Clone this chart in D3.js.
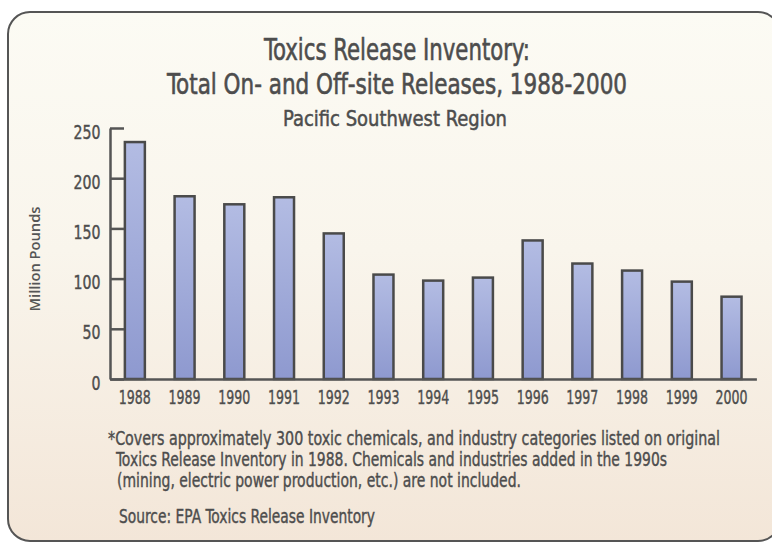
<!DOCTYPE html>
<html>
<head>
<meta charset="utf-8">
<script src="https://cdn.jsdelivr.net/npm/d3@7"></script>
<style>
  html, body { margin: 0; padding: 0; background: #ffffff; }
  svg { display: block; }
  .cond { font-family: "Liberation Sans Narrow", "DejaVu Sans Condensed", "Arial Narrow", sans-serif; }
</style>
</head>
<body>
<svg id="chart" width="772" height="542"></svg>
<script>
// Total on- and off-site releases, Pacific Southwest Region (million pounds)
const years = ["1988", "1989", "1990", "1991", "1992", "1993", "1994",
               "1995", "1996", "1997", "1998", "1999", "2000"];
const releases = [236, 182, 174, 181, 145, 104, 98, 101, 138, 115, 108, 97, 82];
const yTicks = [0, 50, 100, 150, 200, 250];

const titleLines = [
  "Toxics Release Inventory:",
  "Total On- and Off-site Releases, 1988-2000"
];
const subtitle = "Pacific Southwest Region";
const yLabel = "Million Pounds";
const noteLines = [
  "*Covers approximately 300 toxic chemicals, and industry categories listed on original",
  "Toxics Release Inventory in 1988. Chemicals and industries added in the 1990s",
  "(mining, electric power production, etc.) are not included."
];
const source = "Source: EPA Toxics Release Inventory";

const svg = d3.select("#chart");
const ink = "#4d4d4d";

// gradients
const defs = svg.append("defs");
const panelGrad = defs.append("linearGradient")
  .attr("id", "panelGrad").attr("x1", 0).attr("y1", 0).attr("x2", 0).attr("y2", 1);
panelGrad.append("stop").attr("offset", "0%").attr("stop-color", "#fcfbf4");
panelGrad.append("stop").attr("offset", "45%").attr("stop-color", "#f9f5ec");
panelGrad.append("stop").attr("offset", "100%").attr("stop-color", "#f3e6d8");

const barGrad = defs.append("linearGradient")
  .attr("id", "barGrad").attr("x1", 0).attr("y1", 0).attr("x2", 0).attr("y2", 1);
barGrad.append("stop").attr("offset", "0%").attr("stop-color", "#b3bce3");
barGrad.append("stop").attr("offset", "100%").attr("stop-color", "#8e99cf");

// rounded panel
svg.append("rect")
  .attr("x", 8).attr("y", 12)
  .attr("width", 772).attr("height", 529)
  .attr("rx", 22).attr("ry", 22)
  .attr("fill", "url(#panelGrad)")
  .attr("stroke", "#555").attr("stroke-width", 2);

// titles (a thin outline gives the glyphs a medium weight)
const titleG = svg.append("g").attr("class", "cond")
  .attr("fill", ink).attr("stroke", ink).attr("stroke-width", 0.6);
titleG.append("text")
  .attr("x", 397).attr("y", 60)
  .attr("text-anchor", "middle")
  .attr("font-size", 31)
  .attr("textLength", 266).attr("lengthAdjust", "spacingAndGlyphs")
  .text(titleLines[0]);
titleG.append("text")
  .attr("x", 397).attr("y", 94)
  .attr("text-anchor", "middle")
  .attr("font-size", 29)
  .attr("textLength", 460).attr("lengthAdjust", "spacingAndGlyphs")
  .text(titleLines[1]);
titleG.append("text")
  .attr("x", 395).attr("y", 126)
  .attr("text-anchor", "middle")
  .attr("font-size", 22)
  .attr("stroke-width", 0.5)
  .attr("textLength", 224).attr("lengthAdjust", "spacingAndGlyphs")
  .text(subtitle);

// scales
const x = d3.scaleBand()
  .domain(years)
  .range([110, 756.4])
  .paddingInner(0.598)
  .paddingOuter(0.299);

const y = d3.scaleLinear()
  .domain([0, 250])
  .range([379, 128]);

// bars
svg.append("g")
  .selectAll("rect")
  .data(releases)
  .join("rect")
  .attr("x", (d, i) => x(years[i]))
  .attr("y", d => y(d))
  .attr("width", x.bandwidth())
  .attr("height", d => y(0) - y(d))
  .attr("fill", "url(#barGrad)")
  .attr("stroke", "#4a4a4a")
  .attr("stroke-width", 2.5);

// y axis: ticks point inward
const yAxis = svg.append("g")
  .attr("transform", "translate(110,0)")
  .call(d3.axisLeft(y).tickValues(yTicks).tickSizeInner(-14).tickSizeOuter(0).tickPadding(24));
yAxis.select(".domain").attr("stroke", "#555").attr("stroke-width", 2.5);
yAxis.selectAll(".tick line").attr("stroke", "#555").attr("stroke-width", 2.5);
yAxis.selectAll(".tick text")
  .attr("class", "cond")
  .attr("x", -9.5)
  .attr("dy", "0.5em")
  .attr("font-size", 20)
  .attr("fill", ink)
  .attr("stroke", ink).attr("stroke-width", 0.4)
  .attr("text-anchor", "end")
  .attr("textLength", d => String(d).length * 9).attr("lengthAdjust", "spacingAndGlyphs");

// x axis baseline with year labels
const xAxis = svg.append("g")
  .attr("transform", "translate(0,379)")
  .call(d3.axisBottom(x).tickSize(0).tickSizeOuter(0).tickPadding(8));
xAxis.select(".domain").attr("stroke", "#555").attr("stroke-width", 2.5);
xAxis.selectAll(".tick text")
  .attr("class", "cond")
  .attr("font-size", 20)
  .attr("fill", ink)
  .attr("stroke", ink).attr("stroke-width", 0.4)
  .attr("dy", "0.85em")
  .attr("textLength", 32).attr("lengthAdjust", "spacingAndGlyphs");

// y axis title
svg.append("text")
  .attr("transform", "translate(40,259) rotate(-90)")
  .attr("text-anchor", "middle")
  .attr("font-family", "'Open Sans', 'DejaVu Sans', sans-serif")
  .attr("font-weight", 600)
  .attr("font-size", 14)
  .attr("fill", "#555")
  .attr("textLength", 105).attr("lengthAdjust", "spacingAndGlyphs")
  .text(yLabel);

// footnote and source: narrow glyphs stretched vertically
const noteG = svg.append("g").attr("class", "cond")
  .attr("fill", ink).attr("stroke", ink).attr("stroke-width", 0.3)
  .attr("font-size", 15);
const noteX = [108, 116, 117];
const noteW = [612, 551, 404];
const noteY = [445, 466, 487];
noteLines.forEach((t, i) => {
  noteG.append("text")
    .attr("transform", `translate(${noteX[i]},${noteY[i]}) scale(1,1.28)`)
    .attr("textLength", noteW[i]).attr("lengthAdjust", "spacingAndGlyphs")
    .text(t);
});
noteG.append("text")
  .attr("transform", "translate(119,523) scale(1,1.28)")
  .attr("textLength", 256).attr("lengthAdjust", "spacingAndGlyphs")
  .text(source);
</script>
</body>
</html>
